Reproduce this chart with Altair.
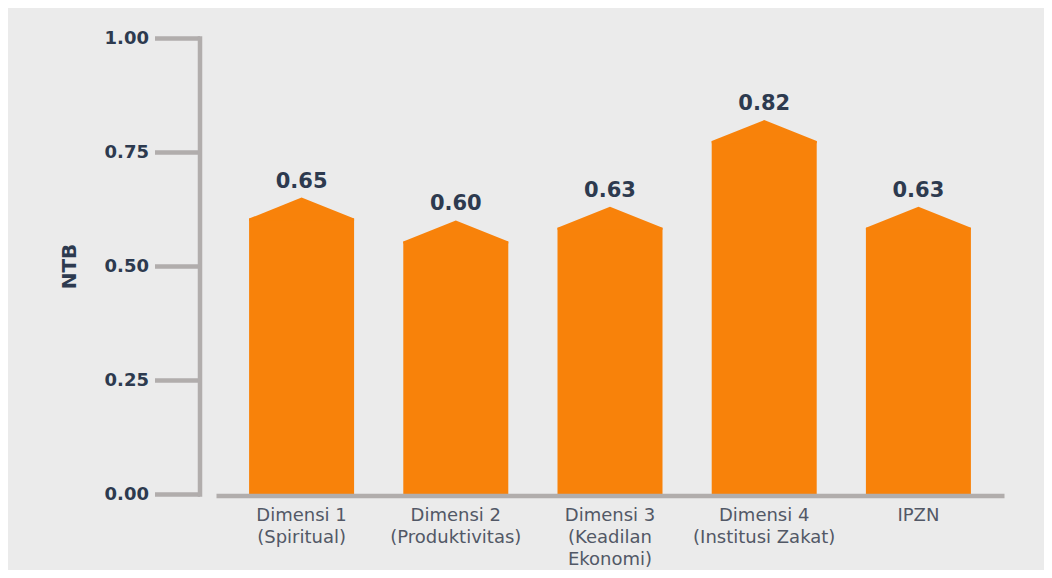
import altair as alt
import pandas as pd

categories = [
    "Dimensi 1\n(Spiritual)",
    "Dimensi 2\n(Produktivitas)",
    "Dimensi 3\n(Keadilan\nEkonomi)",
    "Dimensi 4\n(Institusi Zakat)",
    "IPZN",
]
values = [0.65, 0.60, 0.63, 0.82, 0.63]
labels = ["0.65", "0.60", "0.63", "0.82", "0.63"]
y_ticks = [0.0, 0.25, 0.5, 0.75, 1.0]

df = pd.DataFrame({"kategori": categories, "nilai": values, "label": labels})

ORANGE = "#f8820a"
NAVY = "#2d3a4f"
AXIS_GRAY = "#b1adac"
FONT = "DejaVu Sans"

x_enc = alt.X(
    "kategori:N",
    sort=categories,
    scale=alt.Scale(paddingInner=0.32, paddingOuter=0.215),
    axis=alt.Axis(
        title=None,
        labelAngle=0,
        labelExpr="split(datum.label, '\\n')",
        labelFont=FONT,
        labelFontSize=18,
        labelColor="#525866",
        labelLineHeight=22,
        labelPadding=11,
        labelBaseline="top",
        ticks=False,
        tickSize=0,
        domainColor=AXIS_GRAY,
        domainWidth=4.5,
        offset=1.5,
        zindex=1,
    ),
)

y_enc = alt.Y(
    "nilai:Q",
    scale=alt.Scale(domain=[0, 1]),
    axis=alt.Axis(
        title="NTB",
        titleFont=FONT,
        titleFontSize=20,
        titleFontWeight="bold",
        titleColor=NAVY,
        titlePadding=25,
        values=y_ticks,
        format=".2f",
        grid=False,
        labelFont=FONT,
        labelFontSize=18,
        labelFontWeight="bold",
        labelColor=NAVY,
        labelPadding=6,
        tickSize=45,
        tickWidth=4.5,
        tickColor=AXIS_GRAY,
        tickCap="butt",
        domainColor=AXIS_GRAY,
        domainWidth=4.5,
        domainCap="square",
        offset=16.5,
    ),
)

base = alt.Chart(df)

bars = base.mark_bar(color=ORANGE, width=105, yOffset=21).encode(
    x=x_enc, y=y_enc, y2=alt.datum(0)
)

tops = base.mark_point(
    shape="M-1,0.4L0,0L1,0.4L1,0.44L-1,0.44Z",
    size=105 * 105,
    filled=True,
    color=ORANGE,
    opacity=1,
    strokeWidth=0,
).encode(x=x_enc, y=y_enc)

texts = base.mark_text(
    dy=-10,
    baseline="alphabetic",
    align="center",
    font=FONT,
    fontSize=21,
    fontWeight="bold",
    color=NAVY,
).encode(x=x_enc, y=y_enc, text="label:N")

chart = (
    alt.layer(bars, tops, texts)
    .properties(
        width=788,
        height=456,
        autosize=alt.AutoSizeParams(type="none"),
        padding={"left": 208, "top": 30, "right": 40, "bottom": 76},
        background="#ebebeb",
    )
    .configure_view(stroke=None)
)

chart.save("out.html", embed_options={"renderer": "svg", "actions": False})
